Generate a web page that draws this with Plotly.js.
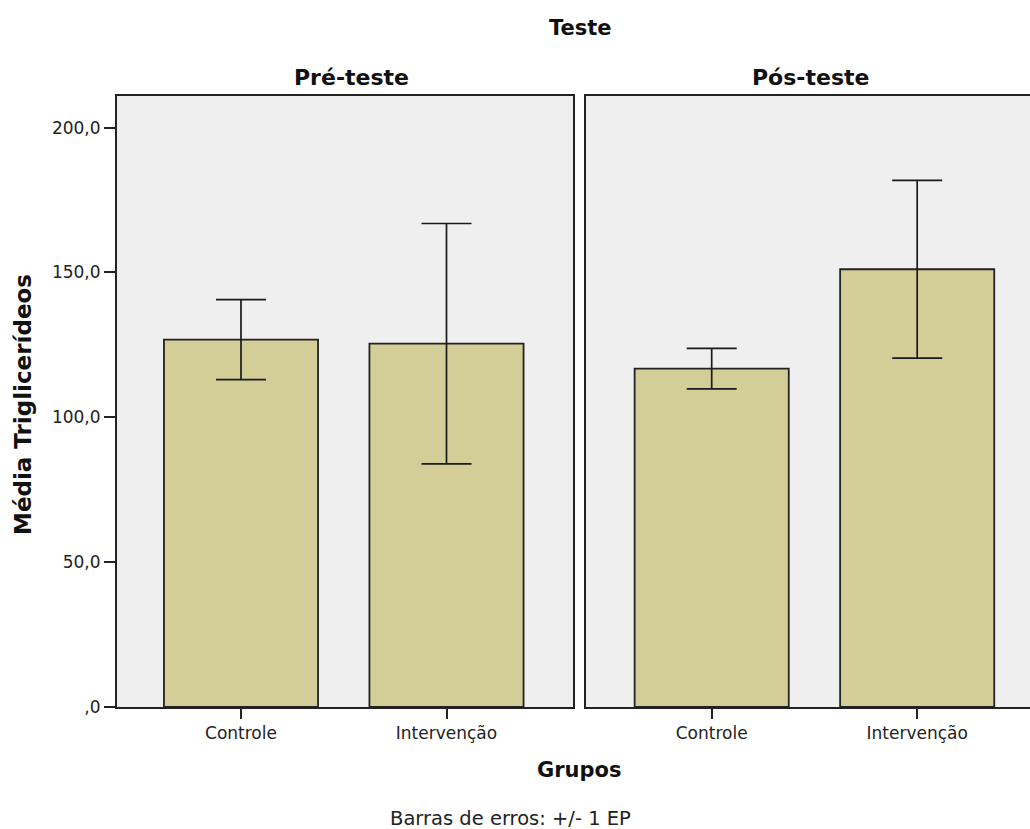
<!DOCTYPE html>
<html>
<head>
<meta charset="utf-8">
<script src="https://cdn.plot.ly/plotly-3.0.1.min.js"></script>
<style>
html,body{margin:0;padding:0;background:#fff;}
#chart{width:1030px;height:829px;}
</style>
</head>
<body>
<div id="chart"></div>
<script>
// ---- data ----
var grupos = ['Controle', 'Intervenção'];
var mediaPre = [126.8, 125.4];
var epPre = [13.8, 41.5];
var mediaPos = [116.8, 151.1];
var epPos = [7.0, 30.7];
var yTickVals = [0, 50, 100, 150, 200];
var yTickText = [',0', '50,0', '100,0', '150,0', '200,0'];
var painelTitulos = ['Pré-teste', 'Pós-teste'];
var tituloGeral = 'Teste';
var tituloY = 'Média Triglicerídeos';
var tituloX = 'Grupos';
var nota = 'Barras de erros: +/- 1 EP';

// ---- styles ----
var barColor = '#d3ce98';
var lineCol = '#222222';
var fontTick = {family: 'DejaVu Sans, sans-serif', size: 17, color: '#222'};
var fontBold = {family: 'DejaVu Sans, sans-serif', size: 21, color: '#111', weight: 'bold'};
var fontPanel = {family: 'DejaVu Sans, sans-serif', size: 22, color: '#111', weight: 'bold'};
var fontYTitle = {family: 'DejaVu Sans, sans-serif', size: 23, color: '#111', weight: 'bold'};

function barTrace(vals, errs, xa, ya) {
  return {
    type: 'bar', x: grupos, y: vals, xaxis: xa, yaxis: ya, width: 0.75,
    marker: {color: barColor, line: {color: lineCol, width: 1.8}},
    error_y: {type: 'data', array: errs, visible: true, color: '#1a1a1a', thickness: 1.7, width: 25},
    hoverinfo: 'none', showlegend: false
  };
}

var data = [
  barTrace(mediaPre, epPre, 'x', 'y'),
  barTrace(mediaPos, epPos, 'x2', 'y2')
];

var W = 1030, H = 829, ML = 117, MR = 0, MT = 96, MB = 122;
var pw = W - ML - MR, ph = H - MT - MB;
function px(x) { return (x - ML) / pw; }
function py(y) { return (H - MB - y) / ph; }

var layout = {
  width: W, height: H,
  margin: {l: ML, r: MR, t: MT, b: MB, pad: 0},
  paper_bgcolor: '#ffffff',
  plot_bgcolor: '#efefef',
  bargap: 0,
  xaxis: {
    domain: [0, px(573)], range: [-0.6034, 1.6156], type: 'category',
    showline: true, mirror: true, linecolor: lineCol, linewidth: 2,
    ticks: 'outside', ticklen: 10, tickcolor: lineCol, tickwidth: 2,
    tickfont: fontTick, showgrid: false, zeroline: false, fixedrange: true
  },
  xaxis2: {
    domain: [px(586), 1], range: [-0.6117, 1.549], type: 'category',
    showline: true, mirror: true, linecolor: lineCol, linewidth: 2,
    ticks: 'outside', ticklen: 10, tickcolor: lineCol, tickwidth: 2,
    tickfont: fontTick, showgrid: false, zeroline: false, fixedrange: true
  },
  yaxis: {
    range: [0, ph / 2.897], tickvals: yTickVals, ticktext: yTickText,
    showline: true, mirror: true, linecolor: lineCol, linewidth: 2,
    ticks: 'outside', ticklen: 11, tickcolor: lineCol, tickwidth: 2,
    tickfont: fontTick, showgrid: false, zeroline: false, fixedrange: true
  },
  yaxis2: {
    anchor: 'x2', matches: 'y', range: [0, ph / 2.897],
    showline: true, mirror: false, linecolor: lineCol, linewidth: 2,
    showticklabels: false, ticks: '', showgrid: false, zeroline: false, fixedrange: true
  },
  annotations: [
    {text: tituloGeral, xref: 'paper', yref: 'paper', x: px(580), y: py(28), showarrow: false, font: fontBold, xanchor: 'center', yanchor: 'middle'},
    {text: painelTitulos[0], xref: 'paper', yref: 'paper', x: px(351), y: py(77), showarrow: false, font: fontPanel, xanchor: 'center', yanchor: 'middle'},
    {text: painelTitulos[1], xref: 'paper', yref: 'paper', x: px(810.5), y: py(77), showarrow: false, font: fontPanel, xanchor: 'center', yanchor: 'middle'},
    {text: tituloX, xref: 'paper', yref: 'paper', x: px(579.5), y: py(770), showarrow: false, font: fontBold, xanchor: 'center', yanchor: 'middle'},
    {text: tituloY, xref: 'paper', yref: 'paper', x: px(23), y: py(405), showarrow: false, font: fontYTitle, textangle: -90, xanchor: 'center', yanchor: 'middle'},
    {text: nota, xref: 'paper', yref: 'paper', x: px(510), y: py(818), showarrow: false, font: {family: 'DejaVu Sans, sans-serif', size: 19.5, color: '#222'}, xanchor: 'center', yanchor: 'middle'}
  ]
};

Plotly.newPlot('chart', data, layout, {displayModeBar: false, staticPlot: true});
</script>
</body>
</html>
